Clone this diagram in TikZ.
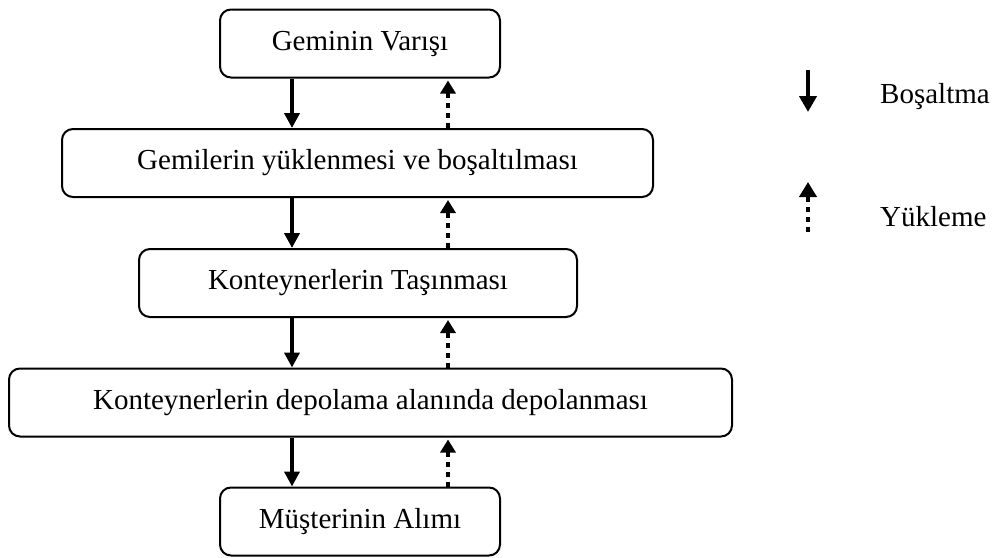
\documentclass[tikz,border=0pt]{standalone}
\usepackage{fontspec}
\setmainfont{Liberation Serif}
\usetikzlibrary{arrows.meta}
\tikzset{
  stage/.style={draw, line width=2pt, rounded corners=11pt, inner sep=0pt,
    font=\fontsize{29}{34}\selectfont, minimum height=68pt},
  unload/.style={line width=4pt, -{Triangle[length=15pt,width=15pt]}},
  load/.style={line width=4pt, dash pattern=on 5pt off 5pt,
    -{Triangle[length=13pt,width=15pt]}},
  legendtext/.style={anchor=west, font=\fontsize{29}{34}\selectfont, inner sep=0pt}
}
\begin{document}
\begin{tikzpicture}[x=1pt, y=-1pt]
\useasboundingbox (0,0) rectangle (996,557);

% process stages
\node[stage, minimum width=280pt] (b1) at (360,43.5) {Geminin Varışı};
\node[stage, minimum width=591pt] (b2) at (357.5,163) {Gemilerin yüklenmesi ve boşaltılması};
\node[stage, minimum width=438pt] (b3) at (358,283) {Konteynerlerin Taşınması};
\node[stage, minimum width=723pt] (b4) at (370.5,402.5) {Konteynerlerin depolama alanında depolanması};
\node[stage, minimum width=280pt] (b5) at (360,521.5) {Müşterinin Alımı};

% columns of the two flows
\coordinate (sx) at (292,0);
\coordinate (dx) at (448,0);

% unloading (downward) and loading (upward) flows
\foreach \a/\b in {b1/b2, b2/b3, b3/b4, b4/b5}{
  \draw[unload] (\a.south -| sx) -- (\b.north -| sx);
  \draw[load] (\b.north -| dx) -- ([yshift=-2pt]\a.south -| dx);
}

% legend
\coordinate (l1s) at (808,70);
\coordinate (l1e) at (808,112);
\coordinate (l2s) at (808,232);
\coordinate (l2e) at (808,182);
\draw[unload, -{Triangle[length=16pt,width=17pt]}] (l1s) -- (l1e);
\draw[load, -{Triangle[length=15pt,width=17pt]}] (l2s) -- (l2e);
\node[legendtext] (t1) at (880,97) {Boşaltma};
\node[legendtext] (t2) at (880,217) {Yükleme};
\end{tikzpicture}
\end{document}
